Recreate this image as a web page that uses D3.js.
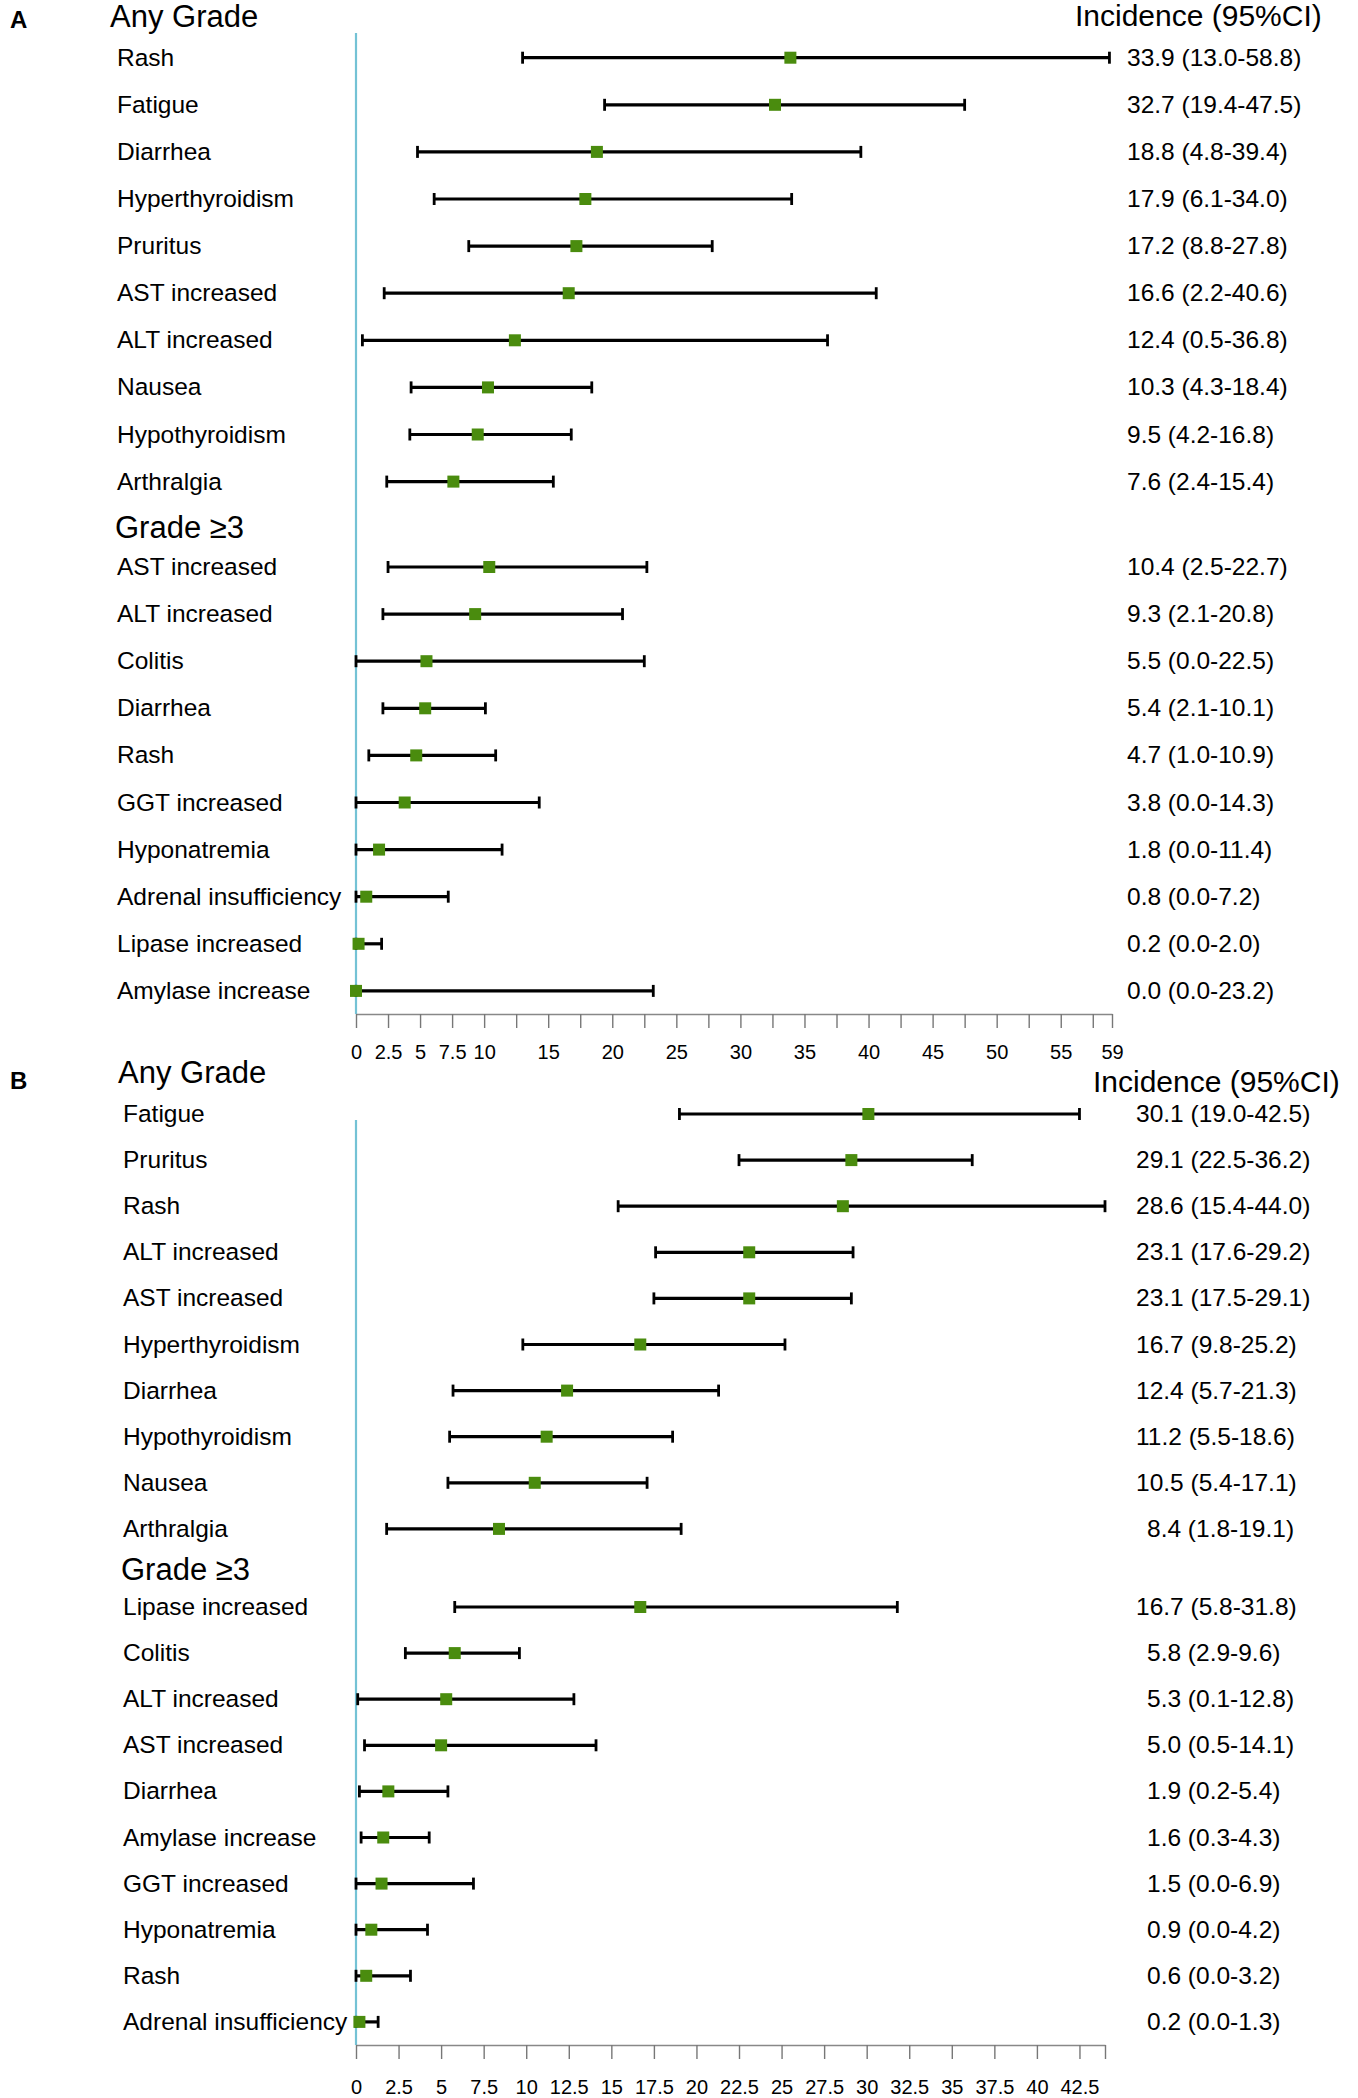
<!DOCTYPE html>
<html>
<head>
<meta charset="utf-8">
<script src="https://cdn.jsdelivr.net/npm/d3@7"></script>
<style>
body { margin: 0; background: #fff; }
text { font-family: "Liberation Sans", Arial, sans-serif; fill: #000; }
</style>
</head>
<body>
<svg id="chart"></svg>
<script>
// [label, estimate, lower, upper]
var aAny = [
  ["Rash", 33.9, 13.0, 58.8],
  ["Fatigue", 32.7, 19.4, 47.5],
  ["Diarrhea", 18.8, 4.8, 39.4],
  ["Hyperthyroidism", 17.9, 6.1, 34.0],
  ["Pruritus", 17.2, 8.8, 27.8],
  ["AST increased", 16.6, 2.2, 40.6],
  ["ALT increased", 12.4, 0.5, 36.8],
  ["Nausea", 10.3, 4.3, 18.4],
  ["Hypothyroidism", 9.5, 4.2, 16.8],
  ["Arthralgia", 7.6, 2.4, 15.4]
];
var aGrade3 = [
  ["AST increased", 10.4, 2.5, 22.7],
  ["ALT increased", 9.3, 2.1, 20.8],
  ["Colitis", 5.5, 0.0, 22.5],
  ["Diarrhea", 5.4, 2.1, 10.1],
  ["Rash", 4.7, 1.0, 10.9],
  ["GGT increased", 3.8, 0.0, 14.3],
  ["Hyponatremia", 1.8, 0.0, 11.4],
  ["Adrenal insufficiency", 0.8, 0.0, 7.2],
  ["Lipase increased", 0.2, 0.0, 2.0],
  ["Amylase increase", 0.0, 0.0, 23.2]
];
var bAny = [
  ["Fatigue", 30.1, 19.0, 42.5],
  ["Pruritus", 29.1, 22.5, 36.2],
  ["Rash", 28.6, 15.4, 44.0],
  ["ALT increased", 23.1, 17.6, 29.2],
  ["AST increased", 23.1, 17.5, 29.1],
  ["Hyperthyroidism", 16.7, 9.8, 25.2],
  ["Diarrhea", 12.4, 5.7, 21.3],
  ["Hypothyroidism", 11.2, 5.5, 18.6],
  ["Nausea", 10.5, 5.4, 17.1],
  ["Arthralgia", 8.4, 1.8, 19.1]
];
var bGrade3 = [
  ["Lipase increased", 16.7, 5.8, 31.8],
  ["Colitis", 5.8, 2.9, 9.6],
  ["ALT increased", 5.3, 0.1, 12.8],
  ["AST increased", 5.0, 0.5, 14.1],
  ["Diarrhea", 1.9, 0.2, 5.4],
  ["Amylase increase", 1.6, 0.3, 4.3],
  ["GGT increased", 1.5, 0.0, 6.9],
  ["Hyponatremia", 0.9, 0.0, 4.2],
  ["Rash", 0.6, 0.0, 3.2],
  ["Adrenal insufficiency", 0.2, 0.0, 1.3]
];

var ticksA = [0, 2.5, 5, 7.5, 10, 12.5, 15, 17.5, 20, 22.5, 25, 27.5, 30, 32.5, 35, 37.5,
              40, 42.5, 45, 47.5, 50, 52.5, 55, 57.5, 59];
var labelsA = [0, 2.5, 5, 7.5, 10, 15, 20, 25, 30, 35, 40, 45, 50, 55, 59];
var ticksB = [0, 2.5, 5, 7.5, 10, 12.5, 15, 17.5, 20, 22.5, 25, 27.5, 30, 32.5, 35, 37.5,
              40, 42.5, 44];
var labelsB = [0, 2.5, 5, 7.5, 10, 12.5, 15, 17.5, 20, 22.5, 25, 27.5, 30, 32.5, 35, 37.5, 40, 42.5];

var svg = d3.select("#chart")
  .attr("width", 1358)
  .attr("height", 2098);

var green = "#4a8c0e";
var refBlue = "#74c2d5";

var drawPanel = function(p) {
  var x = d3.scaleLinear().domain([0, p.max]).range([356, p.right]);
  var g = svg.append("g").attr("class", "panel");

  g.append("text")
    .attr("x", 10).attr("y", p.letterY)
    .attr("font-size", "24px").attr("font-weight", "bold")
    .text(p.letter);

  g.append("text")
    .attr("x", p.anyX).attr("y", p.anyTitleY)
    .attr("font-size", "31px")
    .text("Any Grade");

  g.append("text")
    .attr("x", p.g3X).attr("y", p.g3TitleY)
    .attr("font-size", "31px")
    .text("Grade \u22653");

  g.append("text")
    .attr("x", p.incX).attr("y", p.incY)
    .attr("font-size", "30px")
    .text("Incidence (95%CI)");

  // rows of both groups with their y position
  var rows = p.any.map(function(d, i) { return { d: d, y: p.anyY + i * p.step }; })
    .concat(p.g3.map(function(d, i) { return { d: d, y: p.g3Y + i * p.step }; }));

  // reference line at 0
  g.append("line")
    .attr("x1", x(0)).attr("x2", x(0))
    .attr("y1", p.lineTop).attr("y2", p.axisY)
    .attr("stroke", refBlue).attr("stroke-width", 2.2);

  g.selectAll("text.lab")
    .data(rows)
    .enter()
    .append("text")
    .attr("class", "lab")
    .attr("x", p.labelX)
    .attr("y", function(r) { return r.y + 8; })
    .attr("font-size", "24.5px")
    .text(function(r) { return r.d[0]; });

  g.selectAll("line.ci")
    .data(rows)
    .enter()
    .append("line")
    .attr("class", "ci")
    .attr("x1", function(r) { return x(r.d[2]); })
    .attr("x2", function(r) { return x(r.d[3]); })
    .attr("y1", function(r) { return r.y; })
    .attr("y2", function(r) { return r.y; })
    .attr("stroke", "#000").attr("stroke-width", 3.2);

  var caps = [];
  rows.forEach(function(r) {
    caps.push({ v: r.d[2], y: r.y });
    caps.push({ v: r.d[3], y: r.y });
  });
  g.selectAll("line.cap")
    .data(caps)
    .enter()
    .append("line")
    .attr("class", "cap")
    .attr("x1", function(c) { return x(c.v); })
    .attr("x2", function(c) { return x(c.v); })
    .attr("y1", function(c) { return c.y - 6; })
    .attr("y2", function(c) { return c.y + 6; })
    .attr("stroke", "#000").attr("stroke-width", 2.8);

  g.selectAll("rect.pt")
    .data(rows)
    .enter()
    .append("rect")
    .attr("class", "pt")
    .attr("x", function(r) { return x(r.d[1]) - 6; })
    .attr("y", function(r) { return r.y - 6; })
    .attr("width", 12).attr("height", 12)
    .attr("fill", green);

  g.selectAll("text.val")
    .data(rows)
    .enter()
    .append("text")
    .attr("class", "val")
    .attr("x", function(r) { return p.valueX(r.d[1]); })
    .attr("y", function(r) { return r.y + 8; })
    .attr("font-size", "24.5px")
    .text(function(r) {
      return r.d[1].toFixed(1) + " (" + r.d[2].toFixed(1) + "-" + r.d[3].toFixed(1) + ")";
    });

  var axis = d3.axisBottom(x)
    .tickValues(p.ticks)
    .tickSizeInner(14)
    .tickSizeOuter(0)
    .tickPadding(0)
    .tickFormat(function(d) { return p.labels.indexOf(d) >= 0 ? String(d) : ""; });

  var ax = g.append("g")
    .attr("transform", "translate(0," + p.axisY + ")")
    .call(axis);
  ax.select(".domain").attr("stroke", "#888").attr("stroke-width", 1.6);
  ax.selectAll(".tick line").attr("stroke", "#777").attr("stroke-width", 1.4);
  ax.selectAll(".tick text")
    .attr("y", p.tickLabelY - p.axisY)
    .attr("dy", 0)
    .attr("fill", "#000")
    .attr("font-size", "20px")
    .attr("font-family", "'Liberation Sans', Arial, sans-serif");
};

drawPanel({
  letter: "A", letterY: 28,
  anyX: 110, anyTitleY: 27,
  g3X: 115, g3TitleY: 538,
  incX: 1075, incY: 26,
  any: aAny, g3: aGrade3,
  anyY: 57.7, g3Y: 567, step: 47.1,
  labelX: 117,
  lineTop: 33, axisY: 1014, tickLabelY: 1059,
  max: 59, right: 1112,
  ticks: ticksA, labels: labelsA,
  valueX: function(v) { return 1127; }
});

drawPanel({
  letter: "B", letterY: 1089,
  anyX: 118, anyTitleY: 1083,
  g3X: 121, g3TitleY: 1580,
  incX: 1093, incY: 1092,
  any: bAny, g3: bGrade3,
  anyY: 1114, g3Y: 1607, step: 46.1,
  labelX: 123,
  lineTop: 1120, axisY: 2045, tickLabelY: 2094,
  max: 44, right: 1105,
  ticks: ticksB, labels: labelsB,
  valueX: function(v) { return v >= 10 ? 1136 : 1147; }
});
</script>
</body>
</html>
